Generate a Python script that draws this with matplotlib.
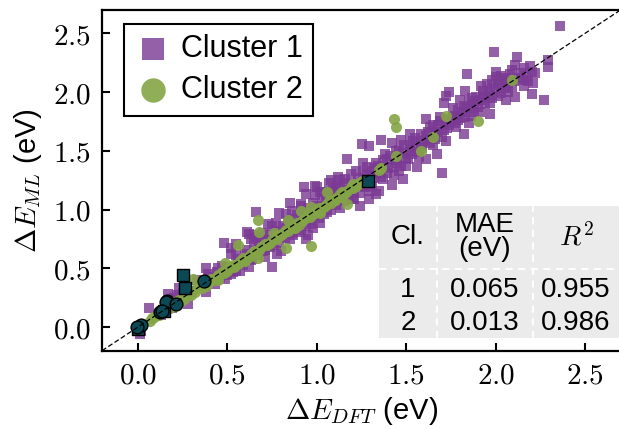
import numpy as np
import matplotlib
matplotlib.use('Agg')
import matplotlib.pyplot as plt
from matplotlib.patches import Rectangle
from matplotlib.lines import Line2D

plt.rcParams['font.family'] = ['Liberation Sans', 'DejaVu Sans']
plt.rcParams['mathtext.fontset'] = 'cm'

# cluster 1 (DFT, ML) in eV
c1_pts = [
    (0.01, -0.06), (0.02, -0.03), (0.06, 0.16), (0.13, 0.10), (0.17, 0.28), (0.20, 0.25),
    (0.22, 0.27), (0.23, 0.33), (0.25, 0.29), (0.29, 0.31), (0.28, 0.20), (0.19, 0.16),
    (0.35, 0.35), (0.38, 0.50), (0.38, 0.30), (0.39, 0.45), (0.42, 0.40), (0.45, 0.50),
    (0.46, 0.43), (0.49, 0.41), (0.50, 0.51), (0.48, 0.72), (0.52, 0.67), (0.55, 0.71),
    (0.55, 0.61), (0.52, 0.62), (0.55, 0.48), (0.53, 0.47), (0.52, 0.45), (0.57, 0.48),
    (0.58, 0.56), (0.60, 0.62), (0.62, 0.51), (0.44, 0.47), (0.33, 0.40),
    (0.40, 0.43), (0.43, 0.37), (0.47, 0.52), (0.50, 0.44), (0.56, 0.58), (0.59, 0.53),
    (0.61, 0.66), (0.63, 0.57), (0.65, 0.70), (0.67, 0.61), (0.69, 0.74), (0.71, 0.66),
    (0.72, 0.78), (0.74, 0.68), (0.77, 0.82), (0.79, 0.72), (0.81, 0.86), (0.82, 0.76),
    (0.84, 0.90), (0.87, 0.78), (0.89, 0.95), (0.90, 0.83), (0.92, 0.98), (0.94, 0.86),
    (0.61, 0.81), (0.65, 0.78), (0.63, 0.75), (0.62, 0.79), (0.66, 0.77), (0.66, 0.98),
    (0.70, 0.65), (0.72, 0.69), (0.73, 0.88), (0.75, 0.86), (0.77, 0.89), (0.75, 0.51),
    (0.78, 0.62), (0.80, 0.65), (0.79, 0.97), (0.83, 0.96), (0.86, 0.99), (0.85, 1.06),
    (0.91, 1.05), (0.91, 1.03), (0.85, 0.75), (0.89, 0.86), (0.91, 0.81), (0.94, 0.75),
    (0.68, 0.72), (0.70, 0.80), (0.74, 0.74), (0.76, 0.70), (0.80, 0.77), (0.83, 0.84),
    (0.86, 0.80), (0.88, 0.92), (0.71, 0.60), (0.64, 0.58), (0.67, 0.66),
    (0.93, 0.95), (0.95, 0.78), (0.96, 0.91), (0.98, 0.84), (0.99, 0.95), (1.02, 0.89),
    (1.04, 1.01), (1.07, 1.05), (0.94, 1.13), (0.99, 1.12), (1.03, 1.15), (1.00, 1.19),
    (1.07, 1.23), (1.13, 1.25), (0.93, 1.19), (0.99, 1.20), (1.02, 1.15), (1.08, 1.25),
    (1.11, 1.18), (1.15, 1.23), (1.19, 1.30), (1.22, 1.33), (1.06, 0.98), (1.13, 1.01),
    (1.21, 1.09), (1.29, 1.09), (1.24, 1.03), (1.20, 1.09), (0.96, 0.95), (1.10, 1.10),
    (1.14, 1.12), (1.17, 1.17), (1.25, 1.20), (1.27, 1.25), (1.05, 1.08), (1.00, 1.03),
    (1.17, 1.43), (1.26, 1.40), (1.28, 1.29), (1.30, 1.26), (1.29, 1.16), (1.12, 1.28),
    (1.08, 1.15),
    (0.95, 1.01), (0.97, 0.88), (0.98, 1.06), (1.01, 0.93), (1.03, 1.09), (1.04, 0.96),
    (1.06, 1.12), (1.08, 1.00), (1.09, 1.17), (1.11, 1.04), (1.12, 1.20), (1.15, 1.07),
    (1.16, 1.26), (1.18, 1.11), (1.19, 1.22), (1.21, 1.15), (1.23, 1.27), (1.24, 1.14),
    (1.26, 1.31), (1.27, 1.19), (1.28, 1.36), (1.30, 1.22), (1.31, 1.33), (1.32, 1.27),
    (1.25, 1.56), (1.29, 1.54), (1.36, 1.59), (1.42, 1.57), (1.47, 1.59), (1.52, 1.64),
    (1.61, 1.63), (1.56, 1.36), (1.50, 1.37), (1.61, 1.43), (1.33, 1.40), (1.39, 1.43),
    (1.37, 1.26), (1.43, 1.29), (1.35, 1.16), (1.40, 1.35), (1.45, 1.40), (1.48, 1.48),
    (1.52, 1.50), (1.55, 1.52), (1.58, 1.56), (1.35, 1.31), (1.32, 1.35), (1.44, 1.50),
    (1.38, 1.47), (1.46, 1.33), (1.51, 1.43), (1.54, 1.58), (1.57, 1.45), (1.42, 1.21),
    (1.48, 1.26), (1.31, 1.20), (1.33, 1.13),
    (1.34, 1.37), (1.36, 1.28), (1.37, 1.42), (1.39, 1.31), (1.41, 1.46), (1.42, 1.36),
    (1.44, 1.42), (1.46, 1.51), (1.47, 1.37), (1.49, 1.55), (1.50, 1.44), (1.52, 1.56),
    (1.53, 1.47), (1.55, 1.61), (1.56, 1.49), (1.58, 1.64), (1.59, 1.52), (1.60, 1.58),
    (1.62, 1.66), (1.63, 1.57), (1.65, 1.72), (1.66, 1.60), (1.68, 1.66), (1.69, 1.75),
    (1.71, 1.68), (1.72, 1.77), (1.74, 1.72), (1.76, 1.79), (1.77, 1.74), (1.79, 1.85),
    (1.80, 1.78), (1.82, 1.88), (1.83, 1.79), (1.85, 1.92), (1.86, 1.86), (1.88, 1.83),
    (1.89, 1.96), (1.90, 1.92), (1.92, 2.05), (1.94, 1.96), (1.95, 2.07), (1.97, 2.02),
    (1.98, 2.10), (2.01, 2.08), (2.03, 2.14), (2.05, 2.12), (2.07, 2.00), (2.09, 2.19),
    (2.10, 2.09), (2.14, 2.16), (2.17, 2.14), (2.19, 2.22), (1.97, 1.91), (2.01, 1.97),
    (1.61, 1.77), (1.67, 1.47), (1.70, 1.31), (1.74, 2.00), (1.72, 1.97), (1.71, 1.91),
    (1.80, 1.93), (1.84, 2.15), (1.83, 2.01), (1.93, 2.01), (1.93, 1.97), (1.97, 1.81),
    (1.82, 1.64), (1.64, 1.60), (1.66, 1.66), (1.68, 1.72), (1.70, 1.62), (1.73, 1.69),
    (1.75, 1.75), (1.77, 1.80), (1.79, 1.76), (1.81, 1.83), (1.84, 1.86), (1.86, 1.80),
    (1.88, 1.90), (1.90, 1.87), (1.92, 1.93), (1.94, 1.90), (1.96, 1.98), (1.98, 1.95),
    (1.76, 1.86), (1.78, 1.70), (1.85, 1.74), (1.63, 1.70), (1.69, 1.79), (1.87, 1.95),
    (1.91, 1.83), (1.99, 2.03), (1.65, 1.55), (1.72, 1.58),
    (1.99, 2.34), (2.12, 2.30), (2.11, 2.23), (2.29, 2.27), (2.29, 2.21), (2.16, 2.20),
    (2.20, 2.17), (2.22, 2.16), (2.00, 2.17), (2.00, 2.13), (2.21, 2.08), (2.20, 1.98),
    (2.11, 1.96), (2.27, 1.93), (2.36, 2.56), (2.02, 2.06), (2.05, 2.03), (2.04, 2.10),
    (2.07, 2.08), (2.09, 2.04), (2.13, 2.12), (2.15, 2.10), (2.18, 2.09), (2.03, 1.99),
    (2.08, 2.15), (2.16, 2.05), (2.06, 1.93),
]

# cluster 2 (DFT, ML) in eV
c2_pts = [
    (0.07, 0.05), (0.09, 0.09), (0.12, 0.10), (0.15, 0.15), (0.18, 0.16), (0.21, 0.21),
    (0.24, 0.22), (0.27, 0.27), (0.30, 0.27), (0.33, 0.33), (0.36, 0.33), (0.39, 0.38),
    (0.42, 0.40), (0.45, 0.44), (0.48, 0.46), (0.51, 0.50), (0.54, 0.51), (0.57, 0.56),
    (0.60, 0.57), (0.63, 0.62), (0.66, 0.63), (0.69, 0.68), (0.72, 0.70), (0.75, 0.74),
    (0.78, 0.75), (0.81, 0.80), (0.84, 0.82), (0.87, 0.86), (0.90, 0.87), (0.93, 0.92),
    (0.96, 0.94), (0.99, 0.98), (1.02, 0.99), (1.05, 1.04), (1.08, 1.06), (1.11, 1.10),
    (1.14, 1.11), (1.17, 1.16), (1.20, 1.18), (1.23, 1.22),
    (0.08, 0.08), (0.11, 0.11), (0.14, 0.12), (0.17, 0.17), (0.20, 0.18), (0.23, 0.23),
    (0.26, 0.24), (0.29, 0.29), (0.32, 0.30), (0.35, 0.35), (0.38, 0.35), (0.41, 0.41),
    (0.44, 0.42), (0.47, 0.47), (0.50, 0.48), (0.53, 0.53), (0.56, 0.54), (0.59, 0.59),
    (0.62, 0.60), (0.65, 0.65), (0.68, 0.66), (0.71, 0.71), (0.74, 0.72), (0.77, 0.77),
    (0.80, 0.78), (0.83, 0.83), (0.86, 0.84), (0.89, 0.89), (0.92, 0.90), (0.95, 0.95),
    (0.98, 0.96), (1.01, 1.01), (1.04, 1.02), (1.07, 1.07), (1.10, 1.08), (1.13, 1.13),
    (1.16, 1.14), (1.19, 1.19), (1.22, 1.20), (1.25, 1.24),
    (0.31, 0.41), (0.56, 0.70), (0.67, 0.59), (0.67, 0.91), (0.68, 0.81), (0.83, 0.67),
    (0.97, 0.69), (0.84, 0.91), (0.91, 0.99), (0.97, 1.02), (1.06, 1.15), (1.17, 1.05),
    (1.14, 1.15), (1.20, 1.22), (1.35, 1.34), (1.36, 1.35), (1.43, 1.77), (1.44, 1.70),
    (1.44, 1.46), (1.58, 1.50), (1.65, 1.62), (1.72, 1.80), (1.90, 1.75), (2.09, 2.10),
    (0.49, 0.55), (0.45, 0.40), (0.60, 0.56), (0.76, 0.80), (0.88, 0.84), (1.02, 0.97),
    (1.10, 1.08), (0.54, 0.52),
]

# highlighted points
hl_sq = [(0.25, 0.445), (0.266, 0.33), (0.149, 0.141), (0.0, -0.015), (1.288, 1.241)]
hl_ci = [(0.372, 0.396), (0.162, 0.226), (0.155, 0.21), (0.212, 0.20), (0.125, 0.128),
         (0.017, 0.022), (-0.005, 0.0), (0.135, 0.14)]

tab_cl = ['1', '2']
tab_mae = ['0.065', '0.013']
tab_r2 = ['0.955', '0.986']

c1 = np.array(c1_pts)
c2 = np.array(c2_pts)
sq = np.array(hl_sq)
ci = np.array(hl_ci)

fig = plt.figure(figsize=(6.19, 4.29), dpi=100)
ax = fig.add_axes([102/619, 78.3/429, 519/619, 341/429])

ax.scatter(c1[:, 0], c1[:, 1], marker='s', s=52, color='#7a3a94', alpha=0.8,
           linewidths=0, label='Cluster 1', zorder=2)
ax.scatter(c2[:, 0], c2[:, 1], marker='o', s=64, color='#84a546', alpha=0.9,
           linewidths=0, label='Cluster 2', zorder=3)
ax.scatter(sq[:, 0], sq[:, 1], marker='s', s=80, color='#0b4a55',
           edgecolors='black', linewidths=1, zorder=4)
ax.scatter(ci[:, 0], ci[:, 1], marker='o', s=85, color='#0b4a55',
           edgecolors='black', linewidths=1, zorder=4)
ax.plot([-0.2, 2.7], [-0.2, 2.7], 'k--', lw=0.9, dashes=(4, 2), zorder=5)

ax.set_xlim(-0.2, 2.7)
ax.set_ylim(-0.2, 2.7)
ticks = [0.0, 0.5, 1.0, 1.5, 2.0, 2.5]
ax.set_xticks(ticks)
ax.set_yticks(ticks)
ax.set_xticklabels(['$%.1f$' % t for t in ticks])
ax.set_yticklabels(['$%.1f$' % t for t in ticks])
ax.tick_params(direction='in', length=6, width=1.5, labelsize=21, pad=8)
for sp in ax.spines.values():
    sp.set_linewidth(1.6)

ax.set_xlabel(r'$\Delta E_{DFT}$ (eV)', fontsize=21, labelpad=4)
ax.set_ylabel(r'$\Delta E_{ML}$ (eV)', fontsize=21, labelpad=6)

leg = ax.legend(loc='upper left', bbox_to_anchor=(22/519, 1 - 14/341), borderaxespad=0,
                fontsize=22, markerscale=2.2, fancybox=False, edgecolor='black',
                handletextpad=0.3, borderpad=0.35, labelspacing=0.35, handlelength=1.2,
                framealpha=1)
leg.get_frame().set_linewidth(1.5)

# table in the lower right, figure pixel positions
def fx(px):
    return px / 619

def fy(py):
    return 1 - py / 429

fig.add_artist(Rectangle((fx(379), fy(338)), fx(621) - fx(379), fy(206) - fy(338),
                         transform=fig.transFigure, facecolor='#ebebeb', edgecolor='none', zorder=6))
for xv in [437, 533]:
    fig.add_artist(Line2D([fx(xv), fx(xv)], [fy(338), fy(206)], transform=fig.transFigure,
                          color='white', lw=1.3, ls=(0, (4, 3)), zorder=7))
fig.add_artist(Line2D([fx(379), fx(621)], [fy(269), fy(269)], transform=fig.transFigure,
                      color='white', lw=1.3, ls=(0, (4, 3)), zorder=7))

tfs = 20
fig.text(fx(408), fy(237), 'Cl.', ha='center', va='center', fontsize=tfs, zorder=8)
fig.text(fx(485), fy(237), 'MAE\n(eV)', ha='center', va='center', fontsize=tfs,
         linespacing=0.85, zorder=8)
fig.text(fx(576), fy(237), '$R^2$', ha='center', va='center', fontsize=tfs, zorder=8)
for i in range(2):
    yy = fy(290 + i * 33)
    fig.text(fx(408), yy, tab_cl[i], ha='center', va='center', fontsize=tfs, zorder=8)
    fig.text(fx(485), yy, tab_mae[i], ha='center', va='center', fontsize=tfs, zorder=8)
    fig.text(fx(576), yy, tab_r2[i], ha='center', va='center', fontsize=tfs, zorder=8)

fig.savefig('out.png', dpi=100)
